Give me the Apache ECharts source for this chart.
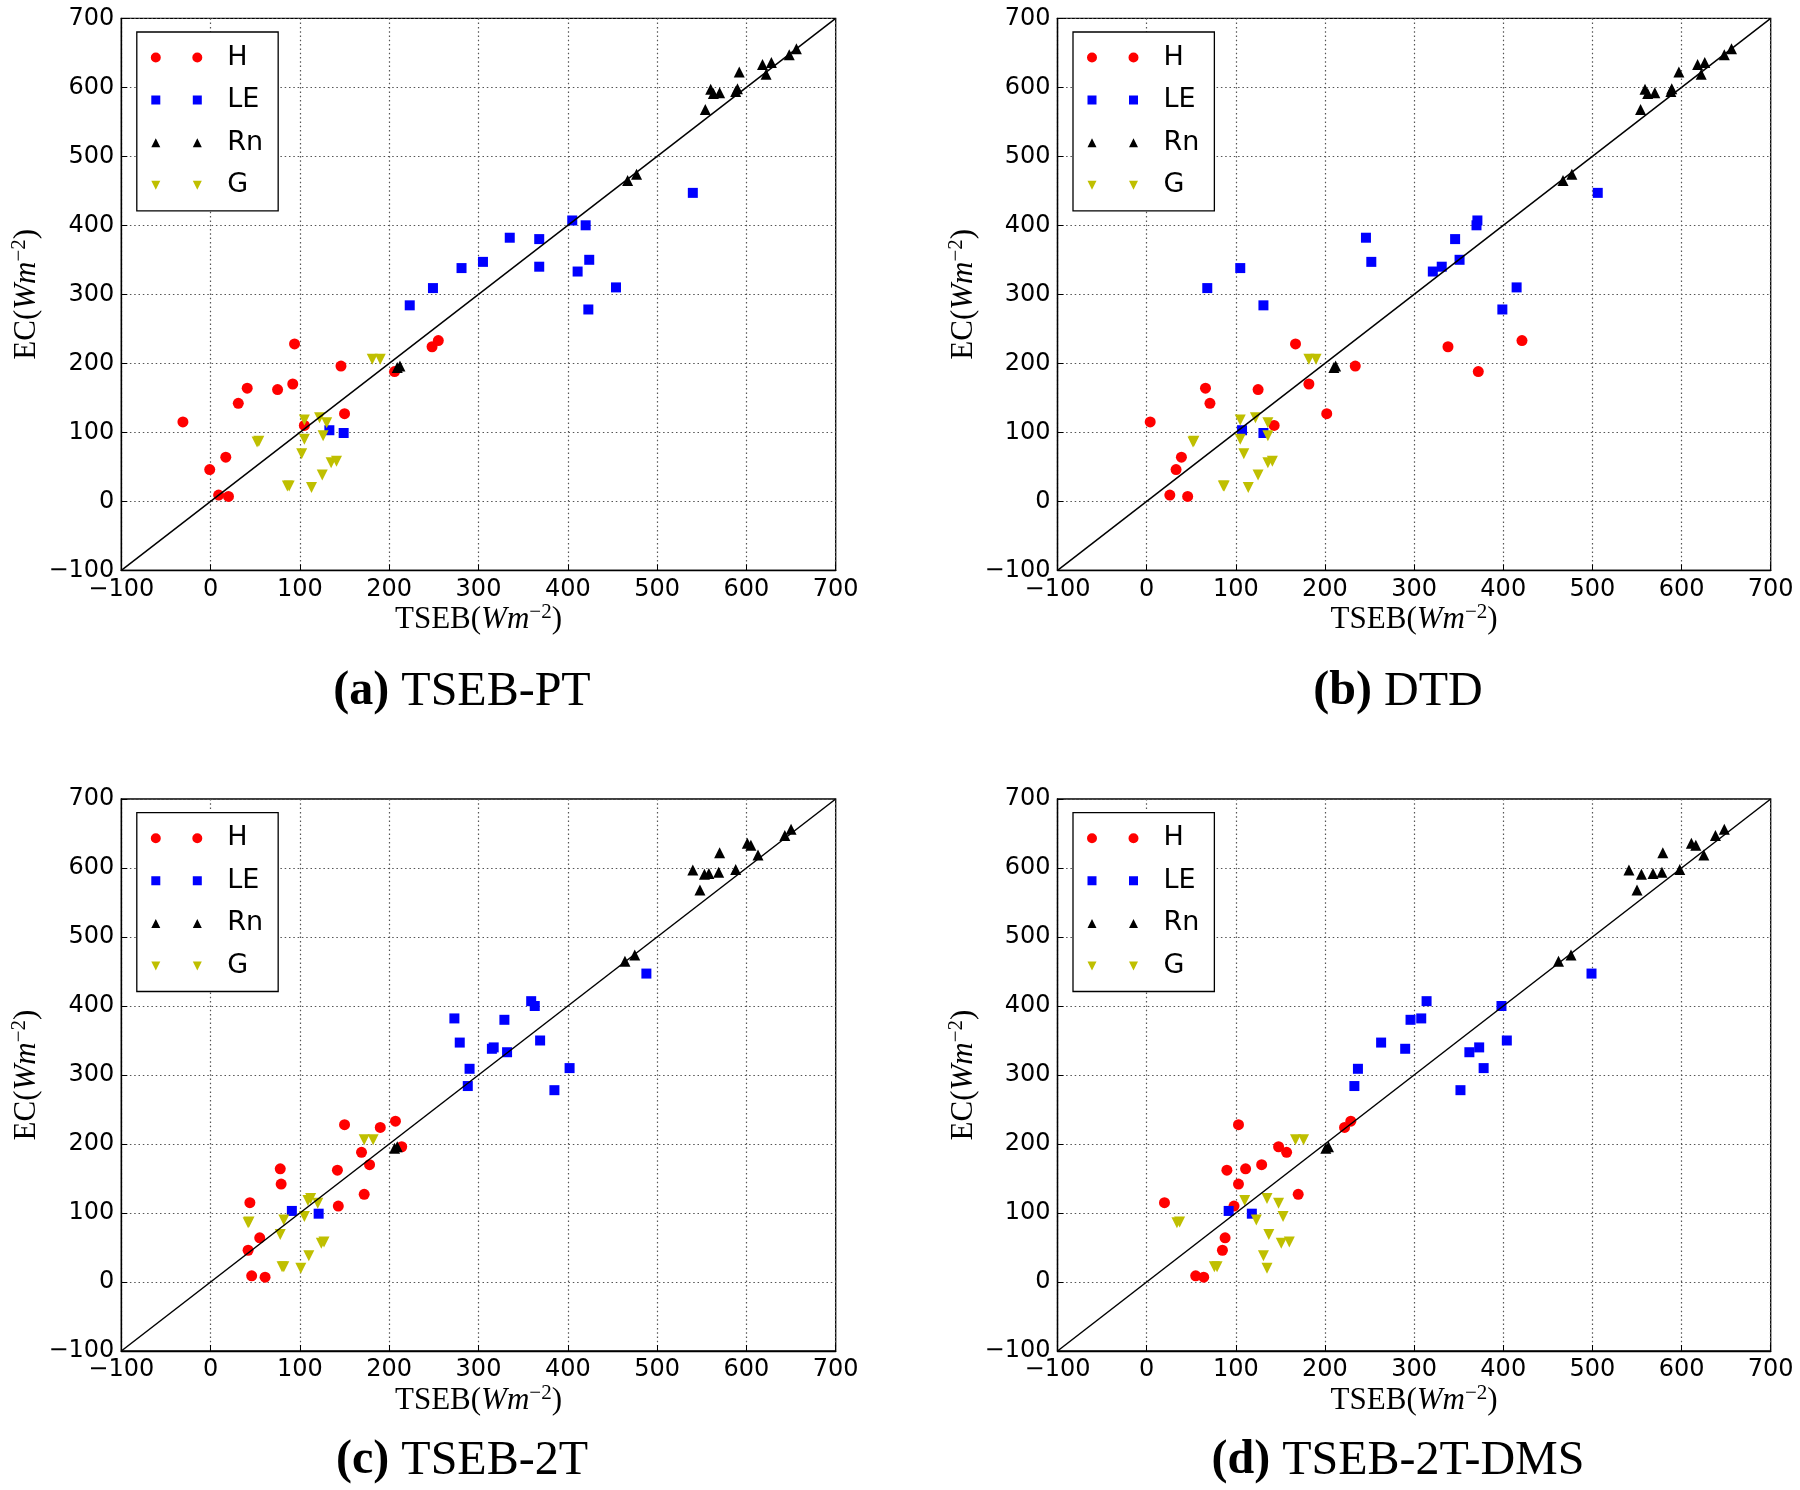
<!DOCTYPE html>
<html>
<head>
<meta charset="utf-8">
<script src="https://cdn.jsdelivr.net/npm/echarts@6/dist/echarts.min.js"></script>
<style>
html, body { margin: 0; padding: 0; background: #fff; }
#chart { width: 1800px; height: 1490px; }
</style>
</head>
<body>
<div id="chart"></div>
<script>
// EC (y) values, same for every panel
const ecH = [115, 46, 64, 9, 7, 142, 164, 162, 170, 228, 110, 196, 127, 188, 224, 233];
const ecLE = [103, 99, 284, 309, 338, 347, 382, 380, 340, 407, 400, 333, 350, 278, 310, 447];
const ecRn = [194, 196, 465, 474, 568, 597, 591, 592, 594, 622, 598, 636, 633, 619, 647, 656];
const ecG = [86, 87, 118, 121, 114, 90, 95, 69, 56, 58, 38, 20, 22, 22, 206, 206];

// TSEB (x) values per model
const tsebPtH = [-31, -1, 17, 9, 20, 31, 41, 75, 92, 94, 105, 146, 150, 206, 248, 255];
const tsebPtLE = [133, 149, 223, 249, 281, 305, 335, 368, 368, 405, 420, 411, 424, 423, 454, 540];
const tsebPtRn = [209, 212, 467, 477, 554, 560, 563, 570, 588, 592, 590, 628, 618, 622, 648, 656];
const tsebPtG = [52, 54, 105, 122, 130, 105, 126, 102, 135, 141, 125, 113, 86, 88, 181, 190];

const dtdH = [4, 33, 39, 26, 46, 71, 66, 125, 182, 167, 143, 234, 202, 372, 338, 421];
const dtdLE = [107, 131, 131, 68, 105, 252, 246, 346, 331, 371, 370, 321, 351, 399, 415, 506];
const dtdRn = [210, 212, 467, 477, 554, 559, 562, 570, 588, 597, 589, 626, 618, 622, 648, 656];
const dtdG = [52, 53, 105, 122, 136, 105, 136, 109, 136, 141, 125, 114, 86, 87, 182, 190];

const tseb2tH = [44, 42, 55, 46, 61, 79, 78, 142, 178, 150, 143, 214, 172, 169, 190, 207];
const tseb2tLE = [91, 121, 288, 290, 315, 279, 273, 329, 317, 359, 363, 332, 369, 385, 402, 488];
const tseb2tRn = [206, 209, 464, 475, 548, 540, 553, 558, 569, 570, 588, 601, 605, 613, 643, 650];
const tseb2tG = [42, 43, 109, 112, 120, 82, 105, 78, 124, 127, 110, 101, 80, 82, 172, 182];

const dmsH = [20, 85, 88, 55, 64, 103, 111, 90, 129, 103, 98, 148, 170, 157, 222, 229];
const dmsLE = [92, 118, 233, 237, 290, 263, 308, 296, 373, 314, 398, 362, 404, 352, 378, 499];
const dmsRn = [201, 204, 462, 476, 550, 541, 555, 568, 578, 579, 598, 611, 616, 625, 638, 648];
const dmsG = [34, 37, 110, 135, 148, 123, 153, 137, 151, 160, 131, 135, 76, 79, 167, 176];

const seriesNames = ['H', 'LE', 'Rn', 'G'];
const panelLetters = ['a', 'b', 'c', 'd'];
const panelTitles = ['TSEB-PT', 'DTD', 'TSEB-2T', 'TSEB-2T-DMS'];
const axisRange = [-100, 700];

const ecValues = { H: ecH, LE: ecLE, Rn: ecRn, G: ecG };
const modelValues = [
    { H: tsebPtH, LE: tsebPtLE, Rn: tsebPtRn, G: tsebPtG },
    { H: dtdH, LE: dtdLE, Rn: dtdRn, G: dtdG },
    { H: tseb2tH, LE: tseb2tLE, Rn: tseb2tRn, G: tseb2tG },
    { H: dmsH, LE: dmsLE, Rn: dmsRn, G: dmsG }
];

// layout of the four panels
const gridBoxes = [
    { left: 121.3, top: 18.3, width: 714.4, height: 552 },
    { left: 1057.5, top: 18.3, width: 713.2, height: 552 },
    { left: 121.3, top: 799, width: 714.4, height: 552 },
    { left: 1057.5, top: 799, width: 713.2, height: 552 }
];
const captionPos = [[462, 692], [1398, 692], [462, 1461], [1398, 1461]];

const markers = {
    H: { symbol: 'circle', size: 11, rotate: 0, color: '#ff0000',
        icon: 'path://M0,5A5,5,0,1,1,10,5A5,5,0,1,1,0,5ZM41.5,5A5,5,0,1,1,51.5,5A5,5,0,1,1,41.5,5Z' },
    LE: { symbol: 'rect', size: 10, rotate: 0, color: '#0000ff',
        icon: 'path://M0.5,0.5H9.5V9.5H0.5ZM42,0.5H51V9.5H42ZM0,0H0.01V0.01H0ZM51.49,9.99H51.5V10H51.49Z' },
    Rn: { symbol: 'triangle', size: 11, rotate: 0, color: '#000000',
        icon: 'path://M5,0.5L9.5,9.5L0.5,9.5ZM46.5,0.5L51,9.5L42,9.5ZM0,0H0.01V0.01H0ZM51.49,9.99H51.5V10H51.49Z' },
    G: { symbol: 'triangle', size: 11, rotate: 180, color: '#bfbf00',
        icon: 'path://M0.5,0.5L9.5,0.5L5,9.5ZM42,0.5L51,0.5L46.5,9.5ZM0,0H0.01V0.01H0ZM51.49,9.99H51.5V10H51.49Z' }
};

const minusFmt = v => (v < 0 ? '\u2212' + Math.abs(v) : String(v));

const nameRich = {
    r: { fontFamily: 'Liberation Serif', fontSize: 31, lineHeight: 36, color: '#000' },
    i: { fontFamily: 'Liberation Serif', fontStyle: 'italic', fontSize: 31, lineHeight: 36, color: '#000' },
    s: { fontFamily: 'Liberation Serif', fontSize: 21, lineHeight: 17, verticalAlign: 'top', color: '#000' }
};

const grids = [], xAxes = [], yAxes = [], series = [], legends = [], graphics = [];

gridBoxes.forEach((box, p) => {
    grids.push(Object.assign({ show: true, borderColor: '#000', borderWidth: 1.3, backgroundColor: '#fff' }, box));

    const common = {
        gridIndex: p,
        type: 'value',
        min: axisRange[0],
        max: axisRange[1],
        interval: 100,
        axisLine: { show: true, onZero: false, lineStyle: { color: '#000', width: 1.3 } },
        axisTick: { show: true, inside: true, length: 6, lineStyle: { color: '#000' } },
        axisLabel: { formatter: minusFmt, fontFamily: 'DejaVu Sans', fontSize: 24, color: '#000', margin: 7 },
        splitLine: { show: true, lineStyle: { color: '#555', width: 1.2, type: [1.5, 2.8] } },
        nameLocation: 'middle',
        nameTextStyle: { rich: nameRich }
    };
    xAxes.push(Object.assign({}, common, {
        name: '{r|TSEB(}{i|Wm}{s|\u22122}{r|)}',
        nameGap: 32
    }));
    yAxes.push(Object.assign({}, common, {
        name: '{r|EC(}{i|Wm}{s|\u22122}{r|)}',
        nameGap: 76,
        nameRotate: 90
    }));

    seriesNames.forEach(name => {
        const m = markers[name];
        const xs = modelValues[p][name];
        const ys = ecValues[name];
        series.push({
            name: name,
            type: 'scatter',
            xAxisIndex: p,
            yAxisIndex: p,
            symbol: m.symbol,
            symbolSize: m.size,
            symbolRotate: m.rotate,
            itemStyle: { color: m.color, opacity: 1 },
            emphasis: { disabled: true },
            data: xs.map((x, i) => [x, ys[i]]),
            z: 2
        });
    });

    // 1:1 line
    series.push({
        name: 'one-to-one',
        type: 'line',
        xAxisIndex: p,
        yAxisIndex: p,
        symbol: 'none',
        silent: true,
        lineStyle: { color: '#000', width: 1.5 },
        data: [[axisRange[0], axisRange[0]], [axisRange[1], axisRange[1]]],
        z: 3
    });

    legends.push({
        left: box.left + 15.5,
        top: box.top + 13.7,
        orient: 'vertical',
        align: 'left',
        data: seriesNames.map(n => ({ name: n, icon: markers[n].icon })),
        itemWidth: 51.5,
        itemHeight: 10,
        itemGap: 15.6,
        padding: [12, 15, 12, 14],
        borderColor: '#000',
        borderWidth: 1.3,
        backgroundColor: '#fff',
        selectedMode: false,
        textStyle: { fontFamily: 'DejaVu Sans', fontSize: 27, lineHeight: 26, color: '#000', padding: [0, 0, 0, 20] }
    });

    graphics.push({
        type: 'text',
        x: captionPos[p][0],
        y: captionPos[p][1],
        style: {
            text: '{b|(' + panelLetters[p] + ')}{r| ' + panelTitles[p] + '}',
            align: 'center',
            verticalAlign: 'middle',
            rich: {
                b: { fontFamily: 'Liberation Serif', fontWeight: 'bold', fontSize: 48, fill: '#000' },
                r: { fontFamily: 'Liberation Serif', fontSize: 48, fill: '#000' }
            }
        }
    });
});

const chart = echarts.init(document.getElementById('chart'), null, { renderer: 'canvas' });
chart.setOption({
    backgroundColor: '#fff',
    animation: false,
    grid: grids,
    xAxis: xAxes,
    yAxis: yAxes,
    legend: legends,
    series: series,
    graphic: graphics
});
</script>
</body>
</html>
